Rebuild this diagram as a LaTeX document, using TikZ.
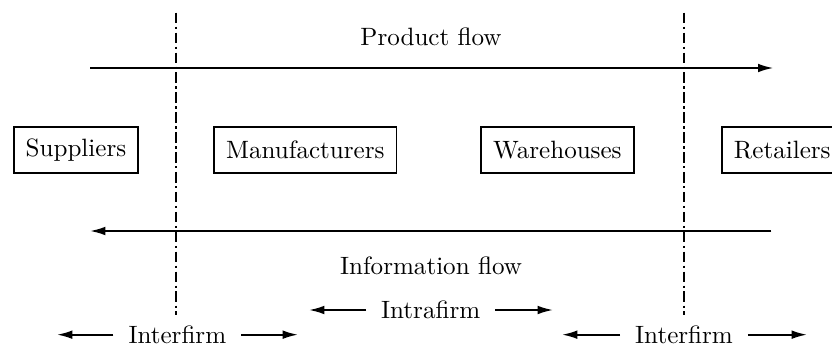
\documentclass[tikz,border=0pt]{standalone}
\usetikzlibrary{arrows.meta}
\begin{document}
\begin{tikzpicture}[
  >={Latex[length=2.3mm,width=1.3mm]},
  txt/.style={font=\fontsize{10.7}{13}\selectfont},
  firm/.style={txt, draw, line width=0.8pt, minimum height=0.7cm, inner xsep=0.18cm},
  span/.style={txt, inner xsep=0.22cm, inner ysep=0pt},
  boundary/.style={line width=0.6pt, dash pattern=on 4.5pt off 1.5pt on 1pt off 1.5pt},
  flow/.style={line width=0.8pt, ->}
]
  \useasboundingbox (0,0) rectangle (12.48,5.19);

  % Firm boundaries
  \coordinate (b1top) at (2.64,5.0);
  \coordinate (b1bot) at (2.64,0.465);
  \coordinate (b2top) at (10.26,5.0);
  \coordinate (b2bot) at (10.26,0.465);
  \draw[boundary] (b1top) -- (b1bot);
  \draw[boundary] (b2top) -- (b2bot);

  % Product flow
  \coordinate (pstart) at (1.35,4.17);
  \coordinate (pend) at (11.6,4.17);
  \draw[flow] (pstart) -- (pend);
  \node[txt] (product) at (6.465,4.635) {Product flow};

  % Stages
  \node[firm] (suppliers) at (1.14,2.94) {Suppliers};
  \node[firm] (manufacturers) at (4.58,2.94) {Manufacturers};
  \node[firm] (warehouses) at (8.36,2.94) {Warehouses};
  \node[firm, anchor=west] (retailers) at (10.815,2.94) {Retailers};

  % Information flow
  \coordinate (istart) at (11.57,1.725);
  \coordinate (iend) at (1.35,1.725);
  \draw[flow] (istart) -- (iend);
  \node[txt] (information) at (6.465,1.2) {Information flow};

  % Intrafirm span
  \node[span] (intra) at (6.46,0.54) {Intrafirm};
  \coordinate (intraL) at (4.635,0.54);
  \coordinate (intraR) at (8.295,0.54);
  \draw[flow] (intra.west) -- (intraL);
  \draw[flow] (intra.east) -- (intraR);

  % Interfirm spans
  \node[span] (interA) at (2.66,0.17) {Interfirm};
  \coordinate (interAL) at (0.855,0.17);
  \coordinate (interAR) at (4.47,0.17);
  \draw[flow] (interA.west) -- (interAL);
  \draw[flow] (interA.east) -- (interAR);

  \node[span] (interB) at (10.26,0.17) {Interfirm};
  \coordinate (interBL) at (8.43,0.17);
  \coordinate (interBR) at (12.105,0.17);
  \draw[flow] (interB.west) -- (interBL);
  \draw[flow] (interB.east) -- (interBR);

\end{tikzpicture}
\end{document}
